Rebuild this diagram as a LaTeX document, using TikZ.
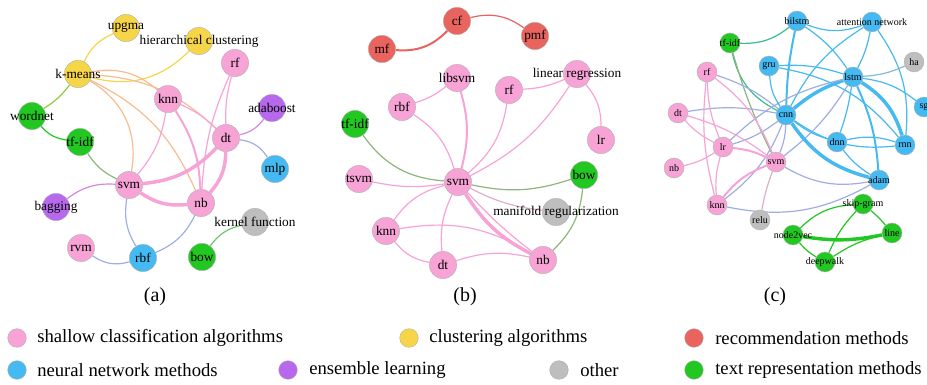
\documentclass[tikz,border=0pt]{standalone}
\usepackage{fontspec}
\setmainfont{Liberation Serif}
\usetikzlibrary{backgrounds}
\definecolor{pk}{HTML}{F7A3D6}
\definecolor{yl}{HTML}{F6D548}
\definecolor{rd}{HTML}{EA645F}
\definecolor{bl}{HTML}{45B9F2}
\definecolor{pu}{HTML}{B868EC}
\definecolor{gy}{HTML}{BEBEBE}
\definecolor{gn}{HTML}{22C722}
\colorlet{pkbl}{pk!50!bl}
\colorlet{pkyl}{pk!50!yl}
\colorlet{pkgn}{pk!50!gn}
\colorlet{pkpu}{pk!50!pu}
\colorlet{pkgy}{pk!50!gy}
\colorlet{gnbl}{gn!50!bl}
\colorlet{gnyl}{gn!50!yl}
\colorlet{gngy}{gn!50!gy}
\colorlet{blgy}{bl!50!gy}
\begin{document}
\begin{tikzpicture}[x=0.75pt,y=-0.75pt,
  na/.style={circle,draw=black!30,line width=0.3pt,minimum size=20.5pt,inner sep=0pt,
    label={[font=\fontsize{10}{11}\selectfont,inner sep=0pt]center:#1}},
  nc/.style={circle,draw=black!30,line width=0.3pt,minimum size=15pt,inner sep=0pt,
    label={[font=\fontsize{7.5}{8}\selectfont,inner sep=0pt]center:#1}},
  ed/.style={line width=0.9pt},
  edm/.style={line width=1.5pt},
  edk/.style={line width=2.6pt},
  lab/.style={font=\fontsize{15}{17}\selectfont},
  legc/.style={circle,draw=black!30,line width=0.3pt,minimum size=14pt,inner sep=0pt},
  legt/.style={font=\fontsize{14}{16}\selectfont,anchor=west,inner sep=0pt}]
\useasboundingbox (0,0) rectangle (927,385);
% ---------------- panel (a)
\node[na=upgma,fill=yl] (aupgma) at (126,28) {};
\node[na=hierarchical clustering,fill=yl] (ahc) at (199,41) {};
\node[na=k-means,fill=yl] (akm) at (78,74) {};
\node[na=wordnet,fill=gn] (awn) at (32,116) {};
\node[na=tf-idf,fill=gn] (atf) at (80,142) {};
\node[na=rf,fill=pk] (arf) at (235,63) {};
\node[na=knn,fill=pk] (aknn) at (168,99) {};
\node[na=adaboost,fill=pu] (aada) at (272,108) {};
\node[na=dt,fill=pk] (adt) at (226,138) {};
\node[na=svm,fill=pk] (asvm) at (129,185) {};
\node[na=bagging,fill=pu] (abag) at (56,207) {};
\node[na=rvm,fill=pk] (arvm) at (81,248) {};
\node[na=rbf,fill=bl] (arbf) at (143,258) {};
\node[na=mlp,fill=bl] (amlp) at (275,169) {};
\node[na=nb,fill=pk] (anb) at (201,203) {};
\node[na=kernel function,fill=gy] (akf) at (255,222) {};
\node[na=bow,fill=gn] (abow) at (202,257) {};
\node[lab] (la) at (155,297) {(a)};
% ---------------- panel (b)
\node[na=cf,fill=rd] (bcf) at (457,21) {};
\node[na=mf,fill=rd] (bmf) at (382,49) {};
\node[na=pmf,fill=rd] (bpmf) at (535,36) {};
\node[na=libsvm,fill=pk] (blib) at (457,78) {};
\node[na=rbf,fill=pk] (brbf) at (402,107) {};
\node[na=tf-idf,fill=gn] (btf) at (355,124) {};
\node[na=rf,fill=pk] (brf) at (509,90) {};
\node[na=linear regression,fill=pk] (blinr) at (577,74) {};
\node[na=lr,fill=pk] (blr) at (601,140) {};
\node[na=svm,fill=pk] (bsvm) at (458,182) {};
\node[na=tsvm,fill=pk] (btsvm) at (359,179) {};
\node[na=knn,fill=pk] (bknn) at (386,231) {};
\node[na=dt,fill=pk] (bdt) at (443,265) {};
\node[na=bow,fill=gn] (bbow) at (584,175) {};
\node[na=manifold regularization,fill=gy] (bmr) at (556,212) {};
\node[na=nb,fill=pk] (bnb) at (543,260) {};
\node[lab] (lb) at (465,297) {(b)};
% ---------------- panel (c)
\node[nc=tf-idf,fill=gn] (ctf) at (730,43) {};
\node[nc=bilstm,fill=bl] (cbil) at (797,21) {};
\node[nc=attention network,fill=bl] (catt) at (872,22) {};
\node[nc=gru,fill=bl] (cgru) at (769,66) {};
\node[nc=rf,fill=pk] (crf) at (707,72) {};
\node[nc=dt,fill=pk] (cdt) at (678,113) {};
\node[nc=cnn,fill=bl] (ccnn) at (786,115) {};
\node[nc=lr,fill=pk] (clr) at (723,147) {};
\node[nc=lstm,fill=bl] (clstm) at (853,77) {};
\node[nc=ha,fill=gy] (cha) at (914,62) {};
\node[nc=sg,fill=bl] (csg) at (924,107) {};
\node[nc=dnn,fill=bl] (cdnn) at (837,142) {};
\node[nc=rnn,fill=bl] (crnn) at (905,145) {};
\node[nc=nb,fill=pk] (cnb) at (674,168) {};
\node[nc=svm,fill=pk] (csvm) at (776,162) {};
\node[nc=knn,fill=pk] (cknn) at (717,205) {};
\node[nc=relu,fill=gy] (crelu) at (760,220) {};
\node[nc=adam,fill=bl] (cadam) at (879,180) {};
\node[nc=skip-gram,fill=gn] (cskip) at (863,204) {};
\node[nc=node2vec,fill=gn] (cn2v) at (793,235) {};
\node[nc=line,fill=gn] (cline) at (892,233) {};
\node[nc=deepwalk,fill=gn] (cdw) at (825,262) {};
\node[lab] (lc) at (775,297) {(c)};
% ---------------- legend
\node[legc,fill=pk] (l1) at (17,338) {};
\node[legt] (t1) at (37,338) {shallow classification algorithms};
\node[legc,fill=yl] (l2) at (409,338) {};
\node[legt] (t2) at (429,338) {clustering algorithms};
\node[legc,fill=rd] (l3) at (694,338) {};
\node[legt] (t3) at (715,338) {recommendation methods};
\node[legc,fill=bl] (l4) at (17,370) {};
\node[legt] (t4) at (37,370) {neural network methods};
\node[legc,fill=pu] (l5) at (288,370) {};
\node[legt] (t5) at (309,370) {ensemble learning};
\node[legc,fill=gy] (l6) at (559,370) {};
\node[legt] (t6) at (580,370) {other};
\node[legc,fill=gn] (l7) at (694,370) {};
\node[legt] (t7) at (715,370) {text representation methods};
% ---------------- edges
\begin{scope}[on background layer]
% (a)
\draw[ed,yl] (akm) to[bend left=20] (aupgma);
\draw[ed,yl] (akm) to[bend right=30] (ahc);
\draw[ed,gnyl] (akm) to[bend left=10] (awn);
\draw[ed,gn] (awn) to[bend right=20] (atf);
\draw[ed,pkyl] (akm) to[bend left=25] (aknn);
\draw[ed,pkyl] (akm) to[bend left=20] (adt);
\draw[ed,pkyl] (akm) to[bend left=20] (anb);
\draw[ed,pkyl] (akm) to[bend left=35] (asvm);
\draw[ed,pkgn] (atf) to[bend right=15] (asvm);
\draw[ed,pkpu] (abag) to[bend left=20] (asvm);
\draw[ed,pkbl] (asvm) to[bend right=20] (arbf);
\draw[ed,pkbl] (arvm) to[bend right=25] (arbf);
\draw[ed,pkbl] (arbf) to[bend right=20] (anb);
\draw[ed,pk] (asvm) to[bend right=15] (aknn);
\draw[edk,pk] (asvm) to[bend right=20] (adt);
\draw[edk,pk] (asvm) to[bend right=20] (anb);
\draw[ed,pk] (aknn) to[bend left=10] (adt);
\draw[edm,pk] (aknn) to[bend left=15] (anb);
\draw[ed,pk] (arf) to[bend right=8] (adt);
\draw[ed,pk] (arf) to[bend right=10] (anb);
\draw[edk,pk] (adt) to[bend left=20] (anb);
\draw[ed,pkpu] (aada) to[bend left=20] (adt);
\draw[ed,pkbl] (adt) to[bend left=25] (amlp);
\draw[ed,gngy] (akf) to[bend right=20] (abow);
% (b)
\draw[edm,rd] (bmf) to[bend right=25] (bcf);
\draw[ed,rd] (bcf) to[bend left=25] (bpmf);
\draw[ed,pk] (brbf) to[bend right=10] (blib);
\draw[ed,pk] (brbf) to[bend left=20] (bsvm);
\draw[edm,pk] (blib) to[bend left=15] (bsvm);
\draw[ed,pk] (brf) to[bend right=10] (blinr);
\draw[ed,pk] (brf) to[bend left=20] (bsvm);
\draw[ed,pk] (blinr) to[bend left=15] (bsvm);
\draw[ed,pk] (blinr) to[bend left=20] (blr);
\draw[ed,pkgn] (btf) to[bend right=25] (bsvm);
\draw[ed,pk] (btsvm) to[bend right=10] (bsvm);
\draw[ed,pk] (bknn) to[bend left=20] (bsvm);
\draw[ed,pk] (bknn) to[bend left=20] (bnb);
\draw[ed,pk] (bknn) to[bend right=20] (bdt);
\draw[ed,pk] (bdt) to[bend left=15] (bsvm);
\draw[ed,pk] (bdt) to[bend left=15] (bnb);
\draw[edk,pk] (bsvm) to[bend right=15] (bnb);
\draw[ed,pk] (bsvm) to[bend right=5] (bnb);
\draw[ed,pkgn] (bsvm) to[bend right=15] (bbow);
\draw[ed,pkgy] (bsvm) to[bend right=10] (bmr);
\draw[ed,pkgn] (bbow) to[bend left=20] (bnb);
% (c)
\draw[ed,gnbl] (ctf) to[bend right=20] (cbil);
\draw[ed,gnbl] (ctf) to[bend right=25] (ccnn);
\draw[ed,pkgn] (ctf) to[bend right=5] (csvm);
\draw[ed,bl] (cbil) to[bend right=20] (catt);
\draw[ed,bl] (cbil) to[bend left=10] (clstm);
\draw[edm,bl] (cbil) to[bend right=5] (ccnn);
\draw[ed,bl] (catt) to[bend left=8] (clstm);
\draw[ed,bl] (catt) to[bend right=15] (ccnn);
\draw[ed,bl] (catt) to[bend left=20] (crnn);
\draw[ed,blgy] (clstm) to[bend right=10] (cha);
\draw[ed,bl] (clstm) to[bend left=15] (csg);
\draw[edk,bl] (clstm) to[bend left=20] (crnn);
\draw[edk,bl] (clstm) to[bend right=10] (ccnn);
\draw[ed,bl] (clstm) to[bend left=5] (cdnn);
\draw[edm,bl] (clstm) to[bend left=10] (cadam);
\draw[ed,bl] (clstm) to[bend right=10] (cgru);
\draw[ed,pkbl] (clstm) to[bend left=10] (csvm);
\draw[ed,pkbl] (clstm) to[bend right=15] (clr);
\draw[ed,bl] (cgru) to[bend right=15] (ccnn);
\draw[ed,bl] (cgru) to[bend left=20] (crnn);
\draw[ed,bl] (ccnn) to[bend right=20] (crnn);
\draw[ed,bl] (ccnn) to[bend right=10] (cdnn);
\draw[edk,bl] (ccnn) to[bend right=20] (cadam);
\draw[ed,pkbl] (ccnn) to[bend left=10] (csvm);
\draw[ed,pkbl] (ccnn) to[bend left=10] (clr);
\draw[ed,pkbl] (ccnn) to[bend left=15] (cknn);
\draw[ed,pkbl] (ccnn) to[bend right=10] (cdt);
\draw[ed,pkbl] (ccnn) to[bend right=10] (crf);
\draw[ed,bl] (cdnn) to[bend left=15] (crnn);
\draw[ed,bl] (cdnn) to[bend right=10] (cadam);
\draw[ed,pkbl] (csvm) to[bend right=20] (cadam);
\draw[ed,pkbl] (cknn) to[bend right=20] (cadam);
\draw[ed,pk] (crf) to[bend right=10] (clr);
\draw[ed,pk] (crf) to[bend left=15] (csvm);
\draw[ed,pk] (crf) to[bend right=10] (cknn);
\draw[ed,pk] (cdt) to[bend right=10] (clr);
\draw[ed,pk] (cdt) to[bend left=10] (csvm);
\draw[edm,pk] (clr) to[bend left=10] (csvm);
\draw[ed,pk] (clr) to[bend right=10] (cknn);
\draw[ed,pk] (cnb) to[bend right=10] (clr);
\draw[edm,pk] (cknn) to[bend left=15] (csvm);
\draw[ed,pkgy] (csvm) to[bend right=5] (crelu);
\draw[ed,gn] (cskip) to[bend right=20] (cn2v);
\draw[ed,gn] (cskip) to[bend left=5] (cline);
\draw[ed,gn] (cskip) to[bend right=10] (cdw);
\draw[edk,gn] (cn2v) to[bend right=10] (cline);
\draw[ed,gn] (cn2v) to[bend right=10] (cdw);
\draw[ed,gn] (cdw) to[bend left=10] (cline);
\end{scope}
\end{tikzpicture}
\end{document}
